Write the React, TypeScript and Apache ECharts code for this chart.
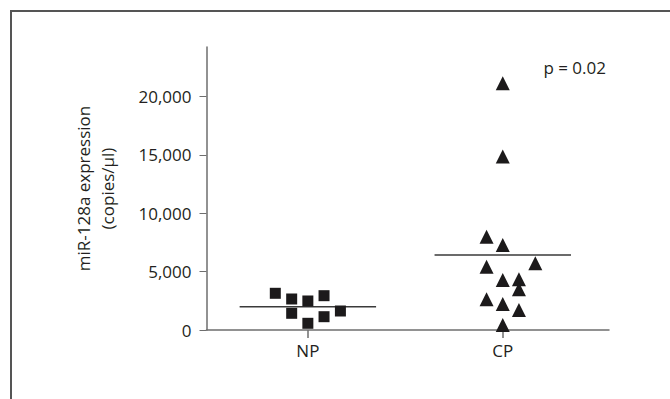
import React, { useEffect, useRef } from "react";
import * as echarts from "echarts";

// Group positions on the x axis
const categories = ["NP", "CP"];
const categoryPos = [1, 2];

// NP group (squares): jittered x position and value (copies/µl)
const npX = [0.833, 0.917, 1.0, 1.083, 0.917, 1.083, 1.167, 1.0];
const npY = [3145, 2657, 2486, 2940, 1431, 1140, 1628, 574];
const npMedian = 2000;

// CP group (triangles)
const cpX = [2.0, 2.0, 1.917, 2.0, 2.167, 1.917, 2.0, 2.083, 2.083, 1.917, 2.0, 2.083, 2.0];
const cpY = [21150, 14860, 8000, 7290, 5720, 5430, 4290, 4340, 3490, 2630, 2230, 1714, 430];
const cpMedian = 6430;

const yTicks = [0, 5000, 10000, 15000, 20000];
const pText = "p = 0.02";

const FONT = "Open Sans";
const FS = 17;

export default function App() {
  const ref = useRef<HTMLDivElement>(null);
  useEffect(() => {
    if (!ref.current) return;
    const chart = echarts.init(ref.current, undefined, { renderer: "svg" });
    const half = 0.35;
    chart.setOption({
      animation: false,
      backgroundColor: "#ffffff",
      grid: { left: 206.5, right: 61, top: 47, bottom: 69, containLabel: false },
      xAxis: {
        type: "value",
        min: 0.48,
        max: 2.545,
        splitLine: { show: false },
        axisLine: { show: true, lineStyle: { color: "#6e6e6e", width: 1.5 } },
        axisTick: {
          show: true,
          length: 8,
          customValues: categoryPos,
          lineStyle: { color: "#6e6e6e", width: 1.5 },
        },
        axisLabel: {
          customValues: categoryPos,
          margin: 12,
          color: "#231f20",
          fontFamily: FONT,
          fontSize: FS,
          formatter: (v: number) => {
            const i = categoryPos.indexOf(Math.round(v));
            return i >= 0 ? categories[i] : "";
          },
        },
      },
      yAxis: {
        type: "value",
        min: 0,
        max: 24250,
        splitLine: { show: false },
        axisLine: { show: true, lineStyle: { color: "#6e6e6e", width: 1.5 } },
        axisTick: {
          show: true,
          length: 7,
          customValues: yTicks,
          lineStyle: { color: "#6e6e6e", width: 1 },
        },
        axisLabel: {
          customValues: yTicks,
          margin: 15,
          color: "#231f20",
          fontFamily: FONT,
          fontSize: FS,
          formatter: (v: number) => v.toLocaleString("en-US"),
        },
        name: "miR-128a expression\n(copies/µl)",
        nameLocation: "middle",
        nameGap: 87,
        nameTextStyle: {
          color: "#231f20",
          fontFamily: FONT,
          fontSize: FS,
          lineHeight: 24,
        },
      },
      graphic: [
        {
          type: "rect",
          shape: { x: 11, y: 11, width: 720, height: 450 },
          style: { fill: "none", stroke: "#555555", lineWidth: 2 },
          silent: true,
        },
        {
          type: "text",
          x: 606,
          y: 67,
          style: {
            text: pText,
            align: "right",
            verticalAlign: "middle",
            fill: "#231f20",
            font: `${FS}px "${FONT}"`,
          },
        },
      ],
      series: [
        {
          type: "line",
          data: [
            [categoryPos[0] - half, npMedian],
            [categoryPos[0] + half, npMedian],
          ],
          symbol: "none",
          lineStyle: { color: "#3a3a3a", width: 1.5 },
          z: 1,
        },
        {
          type: "line",
          data: [
            [categoryPos[1] - half, cpMedian],
            [categoryPos[1] + half, cpMedian],
          ],
          symbol: "none",
          lineStyle: { color: "#3a3a3a", width: 1.5 },
          z: 1,
        },
        {
          type: "scatter",
          data: npX.map((x, i) => [x, npY[i]]),
          symbol: "rect",
          symbolSize: 11,
          itemStyle: { color: "#1c1a1b", opacity: 1 },
          z: 3,
        },
        {
          type: "scatter",
          data: cpX.map((x, i) => [x, cpY[i]]),
          symbol: "triangle",
          symbolSize: [14, 14],
          itemStyle: { color: "#1c1a1b", opacity: 1 },
          z: 3,
        },
      ],
    });
    return () => chart.dispose();
  }, []);
  return (
    <div
      ref={ref}
      style={{ position: "absolute", left: 0, top: 0, width: 670, height: 399 }}
    />
  );
}
